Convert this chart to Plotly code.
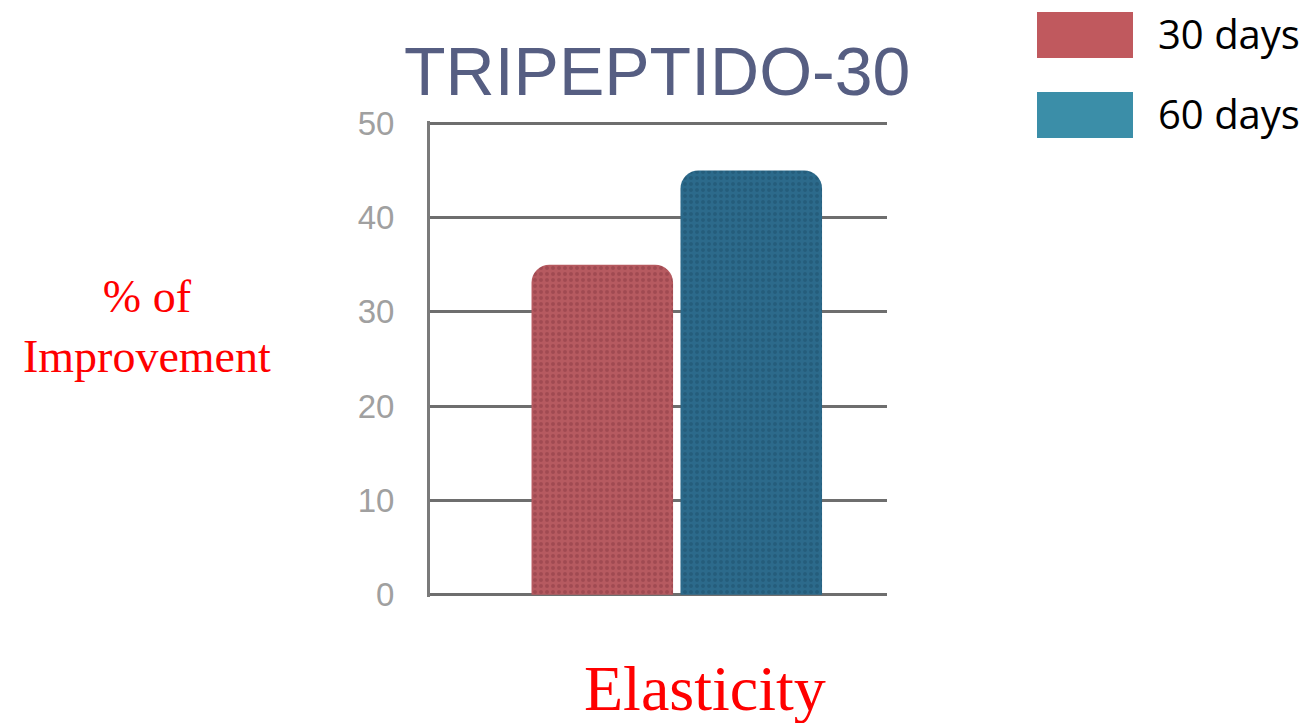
import plotly.graph_objects as go

categories = ["Elasticity"]
series_names = ["30 days", "60 days"]
values_30 = [35]
values_60 = [45]
bar_colors = ["#b65a60", "#2c6a8b"]
legend_colors = ["#c0595e", "#3b8ea8"]
pattern_colors = ["#8a3a44", "#1d4f6c"]
y_ticks = [0, 10, 20, 30, 40, 50]

W, H = 1309, 723
L, R, T, B = 430, 422, 121, 126
pw, ph = W - L - R, H - T - B


def px_x(x):
    return (x - L) / pw


def px_y(y):
    return (H - B - y) / ph


fig = go.Figure()
for name, vals, col, pcol in zip(series_names, [values_30, values_60], bar_colors, pattern_colors):
    fig.add_trace(go.Bar(
        x=categories, y=vals, name=name, showlegend=False,
        marker=dict(color=col, line=dict(width=0), cornerradius=18,
                    pattern=dict(shape=".", fgcolor=pcol, size=6, solidity=0.35)),
    ))

fig.update_layout(
    width=W, height=H,
    paper_bgcolor="white", plot_bgcolor="white",
    margin=dict(l=L, r=R, t=T, b=B, autoexpand=False),
    barmode="group", bargap=0.348, bargroupgap=0.05,
    showlegend=False,
    xaxis=dict(range=[-0.54, 0.46], showticklabels=False, showgrid=False,
               zeroline=False, showline=False, fixedrange=True),
    yaxis=dict(range=[-0.25, 50.25], tickvals=y_ticks, showgrid=True, gridcolor="#6e6e6e",
               gridwidth=3, zeroline=False, showline=True, linecolor="#7a7a7a", linewidth=3,
               ticklabelstandoff=26,
               tickfont=dict(family="Liberation Sans, Arial", size=33, color="#a0a0a0")),
)

# Title
fig.add_annotation(text="TRIPEPTIDO-30", xref="paper", yref="paper", x=px_x(657), y=px_y(71),
                   showarrow=False, xanchor="center", yanchor="middle",
                   font=dict(family="Liberation Sans, Arial", size=68, color="#565e82"))

# Axis labels
fig.add_annotation(text="% of<br>Improvement", xref="paper", yref="paper", x=px_x(147), y=px_y(326),
                   showarrow=False, xanchor="center", yanchor="middle",
                   font=dict(family="Liberation Serif, Times New Roman", size=46, color="#ff0000"))
fig.add_annotation(text="Elasticity", xref="paper", yref="paper", x=px_x(705), y=px_y(688),
                   showarrow=False, xanchor="center", yanchor="middle",
                   font=dict(family="Liberation Serif, Times New Roman", size=64, color="#ff0000"))

# Legend (manual, large swatches)
for i, (name, col) in enumerate(zip(series_names, legend_colors)):
    y0 = 12 + i * 80
    fig.add_shape(type="rect", xref="paper", yref="paper",
                  x0=px_x(1037), x1=px_x(1133),
                  y0=px_y(y0 + 46), y1=px_y(y0),
                  fillcolor=col, line=dict(width=0), layer="above")
    fig.add_annotation(text=name, xref="paper", yref="paper",
                       x=px_x(1156), y=px_y(y0 + 21),
                       showarrow=False, xanchor="left", yanchor="middle",
                       font=dict(family="Open Sans, Liberation Sans", size=40, color="black"))

fig.write_html("out.html", config={"displayModeBar": False},
               post_script="document.body.style.margin='0';document.body.style.overflow='hidden';")
